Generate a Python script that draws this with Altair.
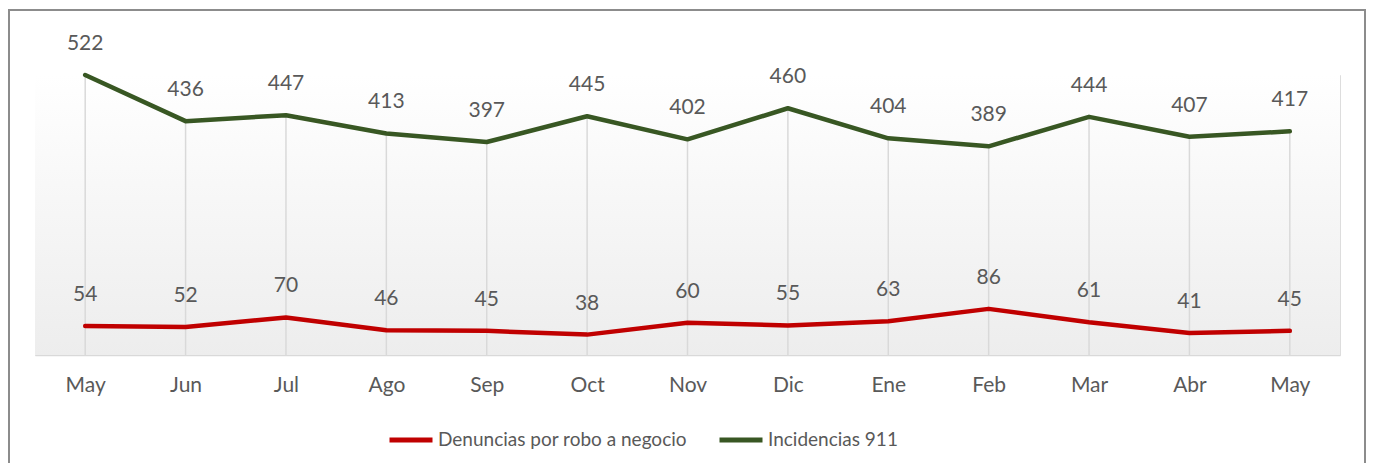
import altair as alt
import pandas as pd

months = ["May", "Jun", "Jul", "Ago", "Sep", "Oct", "Nov", "Dic", "Ene", "Feb", "Mar", "Abr", "May"]
incidencias = [522, 436, 447, 413, 397, 445, 402, 460, 404, 389, 444, 407, 417]
denuncias = [54, 52, 70, 46, 45, 38, 60, 55, 63, 86, 61, 41, 45]
series_names = ["Denuncias por robo a negocio", "Incidencias 911"]
series_colors = ["#C00000", "#385723"]

W, H = 1305, 280
FONT = "Lato"
TXT = "#595959"

rows = []
for i, m in enumerate(months):
    rows.append({"idx": i, "serie": series_names[0], "valor": denuncias[i]})
    rows.append({"idx": i, "serie": series_names[1], "valor": incidencias[i]})
df = pd.DataFrame(rows)
drop_df = pd.DataFrame({"idx": list(range(len(months))), "top": incidencias})

label_expr = "[" + ",".join("'%s'" % m for m in months) + "][datum.value]"

x_enc = alt.X("idx:O",
              scale=alt.Scale(type="point", padding=0.5),
              axis=alt.Axis(title=None, labelExpr=label_expr, labelAngle=0,
                            labelFont=FONT, labelFontSize=21, labelColor=TXT,
                            labelPadding=19, ticks=False, grid=False,
                            domainColor="#d9d9d9", domainWidth=1.5))
y_scale = alt.Scale(domain=[0, 522], nice=False, zero=True)

one = pd.DataFrame({"a": [0]})
bg = alt.Chart(one).mark_rect(
    color=alt.Gradient(gradient="linear", x1=0, x2=0, y1=0, y2=1,
                       stops=[alt.GradientStop(color="#ffffff", offset=0),
                              alt.GradientStop(color="#ededed", offset=1)])
).encode(x=alt.value(0), x2=alt.value(W), y=alt.value(0), y2=alt.value(H))

border = alt.Chart(one).mark_rect(fill=None, stroke="#8c8c8c", strokeWidth=2).encode(
    x=alt.value(-26), x2=alt.value(1330), y=alt.value(-65), y2=alt.value(420))

drops = alt.Chart(drop_df).mark_rule(color="#d9d9d9", strokeWidth=1.5).encode(
    x=x_enc,
    y=alt.Y("top:Q", scale=y_scale, axis=None),
    y2=alt.datum(0))

color_enc = alt.Color("serie:N",
                      scale=alt.Scale(domain=series_names, range=series_colors),
                      legend=alt.Legend(title=None, orient="none", legendX=352, legendY=341,
                                        direction="horizontal", symbolType="stroke",
                                        symbolSize=1849, symbolStrokeWidth=5,
                                        labelFont=FONT, labelFontSize=19, labelColor=TXT,
                                        labelOffset=3, labelLimit=500, columnPadding=22))

lines = alt.Chart(df).mark_line(strokeWidth=4.5, strokeCap="round", strokeJoin="round").encode(
    x=x_enc,
    y=alt.Y("valor:Q", scale=y_scale, axis=None),
    color=color_enc,
    detail="serie:N")

labels = alt.Chart(df).mark_text(dy=-31, font=FONT, fontSize=21, color=TXT, baseline="middle").encode(
    x=x_enc,
    y=alt.Y("valor:Q", scale=y_scale, axis=None),
    text="valor:Q")

chart = alt.layer(bg, drops, lines, labels, border).properties(
    width=W, height=H,
    autosize=alt.AutoSizeParams(type="none"),
    padding={"left": 27, "top": 67, "right": 26, "bottom": 108},
).configure_view(strokeWidth=0).configure(background="white")

chart.save("out.html", embed_options={"renderer": "svg", "actions": False})
